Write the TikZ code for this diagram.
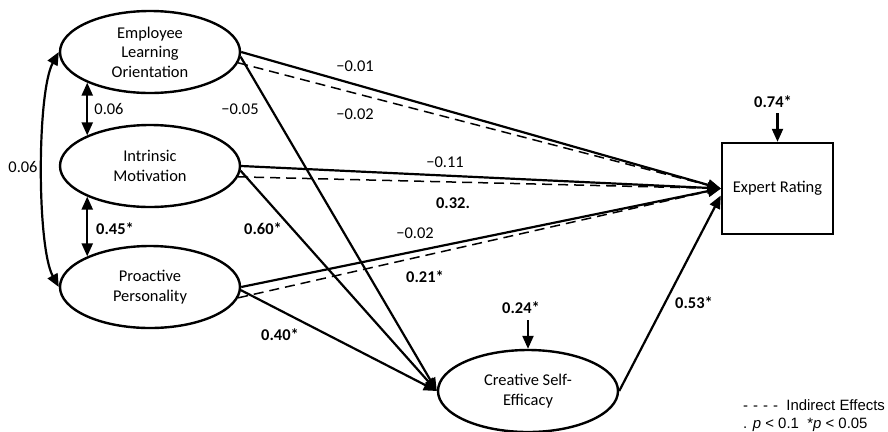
\documentclass[tikz,border=0pt]{standalone}
\usepackage{fontspec}
\setmainfont{Carlito}
\newfontfamily\legendfont{Liberation Sans}
\usetikzlibrary{arrows.meta,shapes.geometric,calc}

\begin{document}
\begin{tikzpicture}[x=1bp,y=-1bp,
  txt/.style={font=\fontsize{16.5}{19.5}\selectfont},
  latent/.style={txt,ellipse,draw,line width=2.4bp,minimum width=180bp,
    minimum height=82bp,inner sep=0pt,align=center},
  observed/.style={txt,rectangle,draw,line width=2.4bp,minimum width=111bp,
    minimum height=91bp,inner sep=0pt},
  tip/.tip={Triangle[length=13bp,width=11bp]},
  eff/.style={line width=2.2bp,-tip},
  ind/.style={line width=1.5bp,dash pattern=on 10bp off 6bp,-tip},
  cov/.style={line width=2.2bp,tip-tip},
  lab/.style={txt,inner sep=0pt},
  blab/.style={lab,font=\fontsize{16.5}{19.5}\selectfont\bfseries},
  legend/.style={font=\legendfont\fontsize{15}{18}\selectfont,inner sep=0pt,anchor=base west}
]
\useasboundingbox (0,0) rectangle (888,431);

% constructs
\node[latent] (elo) at (150,52) {Employee\\Learning\\Orientation};
\node[latent] (im)  at (150,166) {Intrinsic\\Motivation};
\node[latent] (pp)  at (150,287) {Proactive\\Personality};
\node[latent] (cse) at (528,391) {Creative Self-\\Efficacy};
\node[observed] (er) at (777.5,188.5) {Expert Rating};

% residual terms
\coordinate (erres) at (777.5,113);
\coordinate (cseres) at (528,320);
\draw[eff] (erres) -- (er.north);
\draw[eff] (cseres) -- (cse.north);
\node[blab] (lerres) at (773,102) {0.74*};
\node[blab] (lcseres) at (521,308) {0.24*};

% correlations among predictors
\draw[cov] (elo.-154) -- (im.154);
\draw[cov] (im.-154) -- (pp.154);
\draw[cov] (elo.west) .. controls +(-22,40) and +(-22,-40) .. (pp.west);
\node[lab] (lc1) at (109,109) {0.06};
\node[blab] (lc2) at (115,229) {0.45*};
\node[lab] (lc3) at (23,167) {0.06};

% direct effects on expert rating
\draw[eff] (elo.east) -- (er.west);
\draw[eff] (im.east) -- (er.west);
\draw[eff] (pp.east) -- (er.west);
\draw[eff] (cse.east) -- ($(er.west)+(0,7)$);

% indirect effects
\draw[ind] (elo.-7) -- (er.west);
\draw[ind] (im.-7) -- (er.west);
\draw[ind] (pp.-7) -- (er.west);

% effects on creative self-efficacy
\draw[eff] (elo.-3) -- (cse.west);
\draw[eff] (im.-3) -- (cse.west);
\draw[eff] (pp.-2) -- (cse.west);

% coefficients
\node[lab] (l1) at (355,66) {−0.01};
\node[lab] (l2) at (355,114) {−0.02};
\node[lab] (l3) at (240,109) {−0.05};
\node[blab] (l4) at (263,229) {0.60*};
\node[lab] (l5) at (445,162) {−0.11};
\node[blab] (l6) at (453,203) {0.32.};
\node[lab] (l7) at (415,233) {−0.02};
\node[blab] (l8) at (425,277) {0.21*};
\node[blab] (l9) at (280,335) {0.40*};
\node[blab] (l10) at (694,303) {0.53*};

% legend
\node[legend] (leg1) at (743,410) {-\,\,-\,\,-\,\,-\ \ Indirect Effects};
\node[legend] (leg2) at (743,428) {. \textit{p} < 0.1\ \ *\textit{p} < 0.05};
\end{tikzpicture}
\end{document}
